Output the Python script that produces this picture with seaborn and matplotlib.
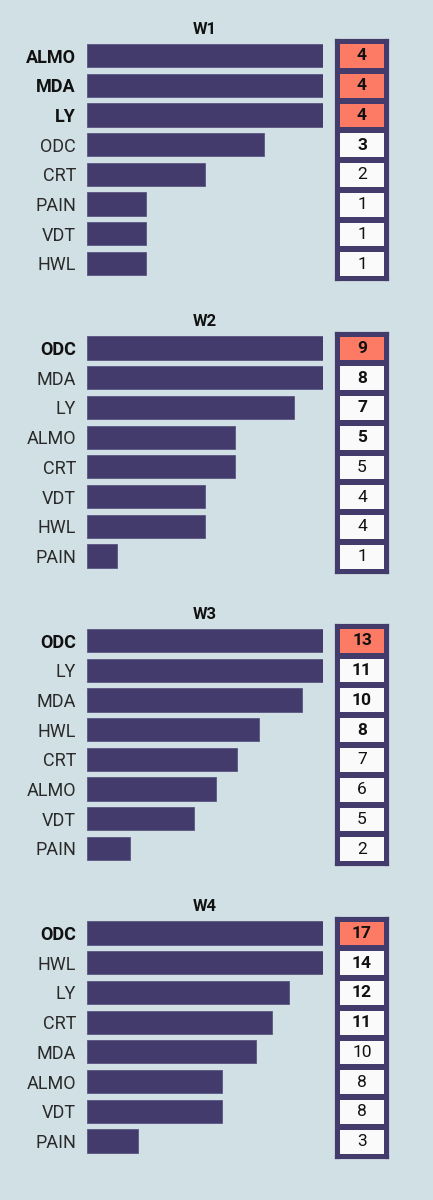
import numpy as np
import pandas as pd
import matplotlib
matplotlib.use("Agg")
import matplotlib.pyplot as plt
from matplotlib.colors import ListedColormap
import seaborn as sns

# datos por ronda (orden tal como aparece)
semanas = ["W1", "W2", "W3", "W4"]
w1_equipos = ["ALMO", "MDA", "LY", "ODC", "CRT", "PAIN", "VDT", "HWL"]
w1_valores = [4, 4, 4, 3, 2, 1, 1, 1]
w2_equipos = ["ODC", "MDA", "LY", "ALMO", "CRT", "VDT", "HWL", "PAIN"]
w2_valores = [9, 8, 7, 5, 5, 4, 4, 1]
w3_equipos = ["ODC", "LY", "MDA", "HWL", "CRT", "ALMO", "VDT", "PAIN"]
w3_valores = [13, 11, 10, 8, 7, 6, 5, 2]
w4_equipos = ["ODC", "HWL", "LY", "CRT", "MDA", "ALMO", "VDT", "PAIN"]
w4_valores = [17, 14, 12, 11, 10, 8, 8, 3]

equipos = [w1_equipos, w2_equipos, w3_equipos, w4_equipos]
valores = [w1_valores, w2_valores, w3_valores, w4_valores]

# estilo
fondo = "#d1e0e4"
barra = "#433b6b"
coral = "#fd7b64"
blanco = "#fafafa"

sns.set_style("white")
plt.rcParams["font.family"] = ["Roboto", "DejaVu Sans"]

W, H = 433, 1200
fig = plt.figure(figsize=(W / 100, H / 100), dpi=100)
fig.patch.set_facecolor(fondo)

def caja(x0, y0, w, h):
    # pixeles (origen arriba) -> fraccion de figura
    return [x0 / W, 1 - (y0 + h) / H, w / W, h / H]

paso_panel = 292.5
for k, (sem, eq, val) in enumerate(zip(semanas, equipos, valores)):
    off = k * paso_panel
    df = pd.DataFrame({"equipo": eq, "valor": val})
    maximo = max(val)
    limite = sorted(val)[-2]

    # ---------- barras ----------
    ax = fig.add_axes(caja(87, 40.7 + off, 236, 237.6))
    ax.set_facecolor("none")
    sns.barplot(data=df, x="valor", y="equipo", ax=ax, color=barra, width=0.78,
                orient="h", edgecolor="#5a5582", linewidth=0.6, saturation=1)
    ax.set_xlim(0, limite)
    ax.set_ylim(len(eq) - 0.5, -0.5)
    ax.set_xlabel("")
    ax.set_ylabel("")
    ax.set_xticks([])
    ax.tick_params(axis="y", length=0, pad=8)
    for lab, v in zip(ax.get_yticklabels(), val):
        if v == maximo:
            lab.set_fontweight("bold")
            lab.set_color("#111111")
        else:
            lab.set_color("#2a2a2a")
        lab.set_fontsize(13)
    sns.despine(ax=ax, left=True, bottom=True)
    ax.set_title(sem, fontsize=12, fontweight="bold", color="#111111", pad=5)

    # ---------- casillas ----------
    axh = fig.add_axes(caja(337, 41 + off, 50, 238))
    tabla = pd.DataFrame({"v": val}, index=eq)
    tope = (tabla["v"] == maximo).astype(int)
    sns.heatmap(tope.to_frame(), ax=axh, cmap=ListedColormap([blanco, coral]),
                vmin=0, vmax=1, cbar=False, annot=tabla.values, fmt="d",
                linewidths=3, linecolor=barra,
                annot_kws={"fontsize": 12.5, "color": "#111111"})
    axh.set_xticks([])
    axh.set_yticks([])
    axh.set_xlabel("")
    axh.set_ylabel("")
    for s in axh.spines.values():
        s.set_visible(True)
        s.set_color(barra)
        s.set_linewidth(3)
    for i, t in enumerate(axh.texts):
        if i < 4:
            t.set_fontweight("bold")

plt.savefig("out.png", dpi=100, facecolor=fondo)
